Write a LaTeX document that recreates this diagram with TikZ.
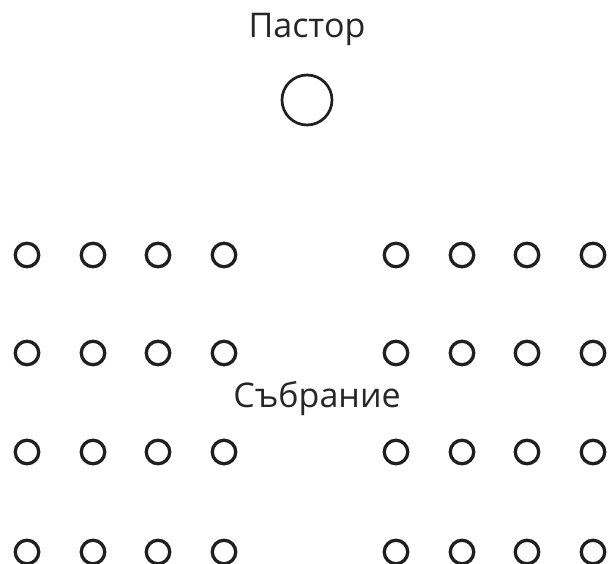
\documentclass[tikz,border=0pt]{standalone}
\usepackage{fontspec}
\setmainfont{Open Sans}
\begin{document}
\begin{tikzpicture}[x=1pt,y=-1pt,
  seat/.style={circle,draw=black!88,line width=3.3pt,minimum size=23.5pt,inner sep=0pt},
  pastorseat/.style={circle,draw=black!88,line width=2.7pt,minimum size=50pt,inner sep=0pt},
  lbl/.style={anchor=base,inner sep=0pt,font=\fontsize{34}{38}\selectfont,text=black!85}]
\useasboundingbox (0,0) rectangle (608,564);
\node[lbl] (tp) at (307,38) {Пастор};
\node[pastorseat] (p) at (307,100) {};
\foreach \r/\y in {1/255,2/353,3/452,4/552}{
  \foreach \c/\x in {1/27,2/93,3/158,4/224,5/396,6/462,7/527,8/593}{
    \node[seat] (s\r\c) at (\x,\y) {};
  }
}
\node[lbl] (tc) at (317,407) {Събрание};
\end{tikzpicture}
\end{document}
